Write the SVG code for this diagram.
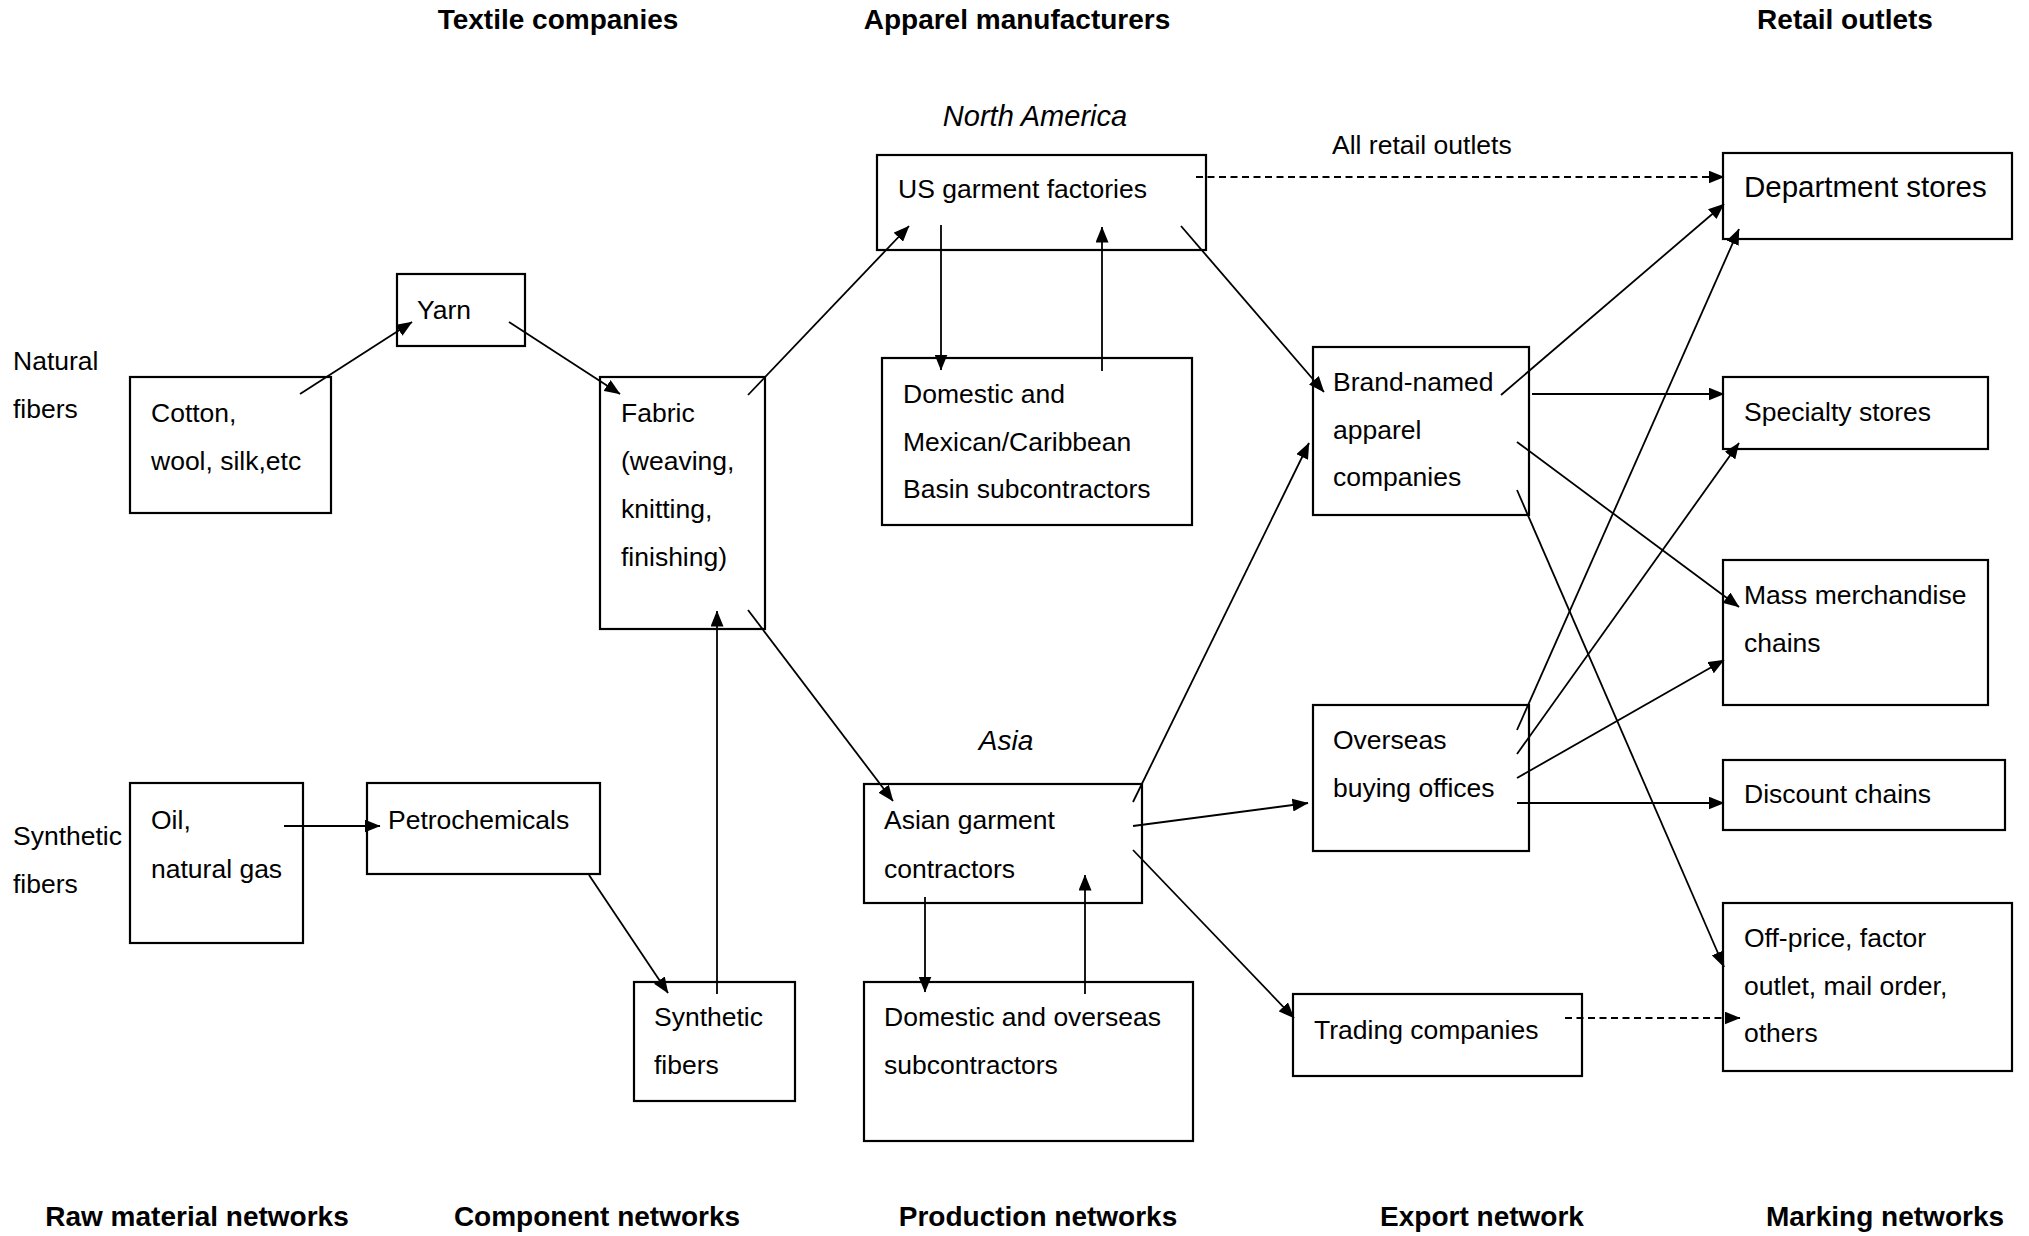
<svg xmlns="http://www.w3.org/2000/svg" width="2029" height="1236" viewBox="0 0 2029 1236">
  <style>
    .bg { fill: #ffffff; }
    .box { fill: #ffffff; stroke: #000000; stroke-width: 2.2; }
    .t { font-family: "Liberation Sans", Arial, sans-serif; font-size: 26.5px; fill: #000000; }
    .big { font-size: 29.5px; }
    .h { font-family: "Liberation Sans", Arial, sans-serif; font-size: 28px; font-weight: bold; fill: #000000; text-anchor: middle; }
    .it { font-family: "Liberation Sans", Arial, sans-serif; font-style: italic; fill: #000000; text-anchor: middle; }
    .c { stroke: #000000; stroke-width: 1.8; fill: none; marker-end: url(#ah); }
    .dash { stroke-dasharray: 7 4.5; }
  </style>
  <defs>
    <marker id="ah" viewBox="0 0 16 13" refX="15.5" refY="6.5" markerWidth="16" markerHeight="13" orient="auto" markerUnits="userSpaceOnUse">
      <path d="M0,0 L16,6.5 L0,13 z" fill="#000000"/>
    </marker>
  </defs>

  <rect class="bg" x="0" y="0" width="2029" height="1236"/>

  <!-- column headings -->
  <g id="headings">
    <text class="h" x="558" y="29">Textile companies</text>
    <text class="h" x="1017" y="29">Apparel manufacturers</text>
    <text class="h" x="1845" y="29">Retail outlets</text>
    <text class="h" x="197" y="1226">Raw material networks</text>
    <text class="h" x="597" y="1226">Component networks</text>
    <text class="h" x="1038" y="1226">Production networks</text>
    <text class="h" x="1482" y="1226">Export network</text>
    <text class="h" x="1885" y="1226">Marking networks</text>
  </g>

  <!-- side and region labels -->
  <g id="labels">
    <text class="t" x="13" y="370">Natural</text>
    <text class="t" x="13" y="418">fibers</text>
    <text class="t" x="13" y="845">Synthetic</text>
    <text class="t" x="13" y="893">fibers</text>
    <text class="it" x="1035" y="126" font-size="29">North America</text>
    <text class="it" x="1006" y="750" font-size="28">Asia</text>
    <text class="t" x="1332" y="154" font-size="27.5">All retail outlets</text>
  </g>

  <!-- raw materials -->
  <g id="cotton">
    <rect class="box" x="130" y="377" width="201" height="136"/>
    <text class="t" x="151" y="422">Cotton,</text>
    <text class="t" x="151" y="470">wool, silk,etc</text>
  </g>
  <g id="oil">
    <rect class="box" x="130" y="783" width="173" height="160"/>
    <text class="t" x="151" y="829">Oil,</text>
    <text class="t" x="151" y="878">natural gas</text>
  </g>

  <!-- components -->
  <g id="yarn">
    <rect class="box" x="397" y="274" width="128" height="72"/>
    <text class="t" x="417" y="319">Yarn</text>
  </g>
  <g id="fabric">
    <rect class="box" x="600" y="377" width="165" height="252"/>
    <text class="t" x="621" y="422">Fabric</text>
    <text class="t" x="621" y="470">(weaving,</text>
    <text class="t" x="621" y="518">knitting,</text>
    <text class="t" x="621" y="566">finishing)</text>
  </g>
  <g id="petrochemicals">
    <rect class="box" x="367" y="783" width="233" height="91"/>
    <text class="t" x="388" y="829">Petrochemicals</text>
  </g>
  <g id="synthetic-fibers">
    <rect class="box" x="634" y="982" width="161" height="119"/>
    <text class="t" x="654" y="1026">Synthetic</text>
    <text class="t" x="654" y="1074">fibers</text>
  </g>

  <!-- production -->
  <g id="us-factories">
    <rect class="box" x="877" y="155" width="329" height="95"/>
    <text class="t" x="898" y="198">US garment factories</text>
  </g>
  <g id="us-subcontractors">
    <rect class="box" x="882" y="358" width="310" height="167"/>
    <text class="t" x="903" y="403">Domestic and</text>
    <text class="t" x="903" y="451">Mexican/Caribbean</text>
    <text class="t" x="903" y="498">Basin subcontractors</text>
  </g>
  <g id="asian-contractors">
    <rect class="box" x="864" y="784" width="278" height="119"/>
    <text class="t" x="884" y="829">Asian garment</text>
    <text class="t" x="884" y="878">contractors</text>
  </g>
  <g id="asian-subcontractors">
    <rect class="box" x="864" y="982" width="329" height="159"/>
    <text class="t" x="884" y="1026">Domestic and overseas</text>
    <text class="t" x="884" y="1074">subcontractors</text>
  </g>

  <!-- export -->
  <g id="brand-named">
    <rect class="box" x="1313" y="347" width="216" height="168"/>
    <text class="t" x="1333" y="391">Brand-named</text>
    <text class="t" x="1333" y="439">apparel</text>
    <text class="t" x="1333" y="486">companies</text>
  </g>
  <g id="buying-offices">
    <rect class="box" x="1313" y="705" width="216" height="146"/>
    <text class="t" x="1333" y="749">Overseas</text>
    <text class="t" x="1333" y="797">buying offices</text>
  </g>
  <g id="trading">
    <rect class="box" x="1293" y="994" width="289" height="82"/>
    <text class="t" x="1314" y="1039">Trading companies</text>
  </g>

  <!-- retail -->
  <g id="department">
    <rect class="box" x="1723" y="153" width="289" height="86"/>
    <text class="t big" x="1744" y="197">Department stores</text>
  </g>
  <g id="specialty">
    <rect class="box" x="1723" y="377" width="265" height="72"/>
    <text class="t" x="1744" y="421">Specialty stores</text>
  </g>
  <g id="mass-merchandise">
    <rect class="box" x="1723" y="560" width="265" height="145"/>
    <text class="t" x="1744" y="604">Mass merchandise</text>
    <text class="t" x="1744" y="652">chains</text>
  </g>
  <g id="discount">
    <rect class="box" x="1723" y="760" width="282" height="70"/>
    <text class="t" x="1744" y="803">Discount chains</text>
  </g>
  <g id="off-price">
    <rect class="box" x="1723" y="903" width="289" height="168"/>
    <text class="t" x="1744" y="947">Off-price, factor</text>
    <text class="t" x="1744" y="995">outlet, mail order,</text>
    <text class="t" x="1744" y="1042">others</text>
  </g>

  <!-- connectors -->
  <g id="connectors">
    <line class="c" x1="300" y1="394" x2="412" y2="322"/>
    <line class="c" x1="509" y1="322" x2="620" y2="394"/>
    <line class="c" x1="284" y1="826" x2="380" y2="826"/>
    <line class="c" x1="589" y1="875" x2="668" y2="993"/>
    <line class="c" x1="717" y1="994" x2="717" y2="611"/>
    <line class="c" x1="748" y1="395" x2="909" y2="226"/>
    <line class="c" x1="748" y1="610" x2="893" y2="801"/>
    <line class="c" x1="941" y1="225" x2="941" y2="370"/>
    <line class="c" x1="1102" y1="371" x2="1102" y2="227"/>
    <line class="c" x1="1181" y1="226" x2="1324" y2="392"/>
    <line class="c dash" x1="1196" y1="177" x2="1724" y2="177"/>
    <line class="c" x1="1133" y1="802" x2="1309" y2="443"/>
    <line class="c" x1="1133" y1="826" x2="1308" y2="803"/>
    <line class="c" x1="1133" y1="850" x2="1294" y2="1018"/>
    <line class="c" x1="925" y1="897" x2="925" y2="992"/>
    <line class="c" x1="1085" y1="994" x2="1085" y2="875"/>
    <line class="c dash" x1="1565" y1="1018" x2="1740" y2="1018"/>
    <line class="c" x1="1501" y1="395" x2="1724" y2="204"/>
    <line class="c" x1="1532" y1="394" x2="1724" y2="394"/>
    <line class="c" x1="1517" y1="442" x2="1739" y2="607"/>
    <line class="c" x1="1517" y1="490" x2="1724" y2="967"/>
    <line class="c" x1="1517" y1="730" x2="1739" y2="229"/>
    <line class="c" x1="1517" y1="754" x2="1739" y2="443"/>
    <line class="c" x1="1517" y1="778" x2="1724" y2="660"/>
    <line class="c" x1="1517" y1="803" x2="1724" y2="803"/>
  </g>
</svg>
